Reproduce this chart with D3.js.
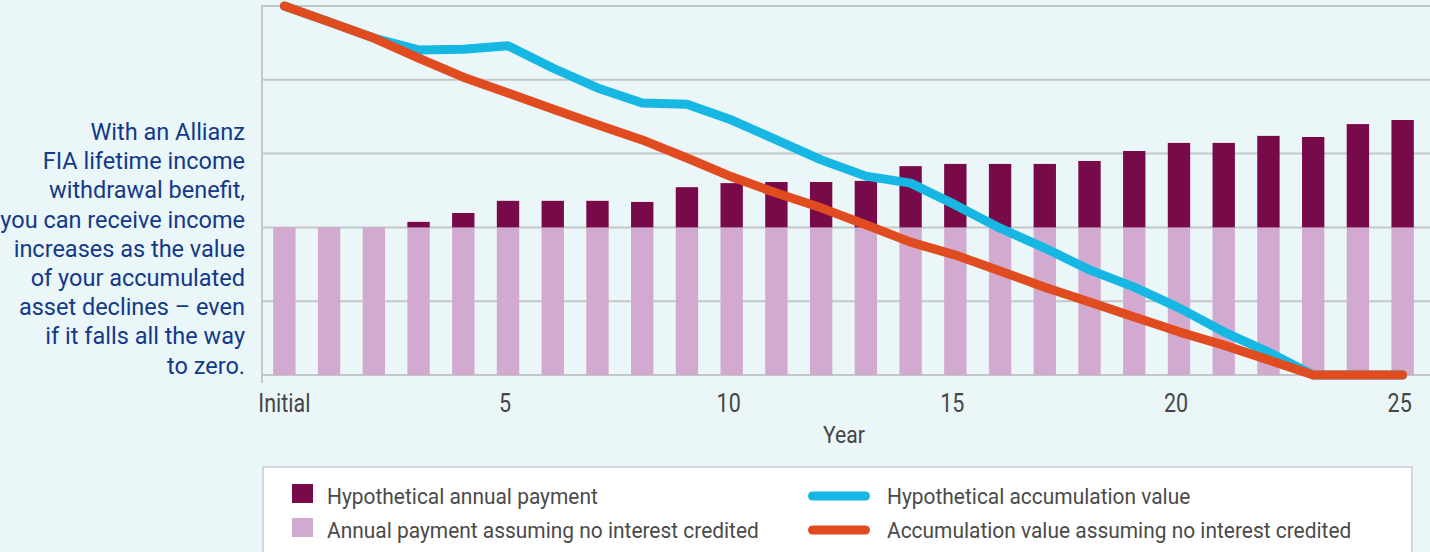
<!DOCTYPE html>
<html>
<head>
<meta charset="utf-8">
<script src="https://cdn.jsdelivr.net/npm/d3@7"></script>
<style>
  html, body { margin: 0; padding: 0; background: #ebf6f8; }
  svg { display: block; }
</style>
</head>
<body>
<svg id="chart" width="1430" height="552"></svg>
<script>
// ---------- data ----------
const categories = ["Initial","1","2","3","4","5","6","7","8","9","10","11","12","13","14","15","16","17","18","19","20","21","22","23","24","25"];
const tickLabels = ["Initial","5","10","15","20","25"];
const basePayment = [40,40,40,40,40,40,40,40,40,40,40,40,40,40,40,40,40,40,40,40,40,40,40,40,40,40];
const hypotheticalPayment = [40,40,40,41.5,43.9,47.2,47.2,47.2,46.9,50.9,52.0,52.3,52.3,52.6,56.6,57.2,57.2,57.2,58.0,60.7,62.9,62.9,64.8,64.5,68.0,69.1];
const hypotheticalValue = [100,95.7,91.3,88.1,88.3,89.2,83.2,77.8,73.7,73.4,69.1,63.7,58.3,53.9,52.0,46.1,39.8,34.4,28.5,23.8,18.2,11.7,6.2,0,0,0];
const noInterestValue = [100,95.7,91.3,85.9,80.7,76.4,72.1,67.8,63.7,58.8,53.7,49.3,45.3,40.7,36.0,32.5,28.2,23.8,19.8,15.7,11.7,8.1,4.1,0,0,0];
const yTicks = [0,20,40,60,80,100];
const annotation = ["With an Allianz","FIA lifetime income","withdrawal benefit,","you can receive income","increases as the value","of your accumulated","asset declines – even","if it falls all the way","to zero."];
const legendItems = [
  {label:"Hypothetical annual payment", type:"rect", color:"#790a4a"},
  {label:"Annual payment assuming no interest credited", type:"rect", color:"#d3aacf"},
  {label:"Hypothetical accumulation value", type:"line", color:"#16b8e3"},
  {label:"Accumulation value assuming no interest credited", type:"line", color:"#e04b1f"}
];

(function () {
// ---------- layout ----------
const svg = d3.select("#chart");
const W = 1430, H = 552;
const pLeft = 262, pRight = 1430, pTop = 6, pBottom = 375;
const font = "Roboto, 'Liberation Sans', Arial, sans-serif";

svg.append("rect").attr("width", W).attr("height", H).attr("fill", "#ebf6f8");

const x = d3.scaleBand().domain(categories).range([pLeft, 1425]).paddingInner(0.5).paddingOuter(0.25);
const y = d3.scaleLinear().domain([0, 100]).range([pBottom, pTop]);

// gridlines
svg.append("g").selectAll("line").data(yTicks).join("line")
  .attr("x1", pLeft).attr("x2", pRight)
  .attr("y1", d => y(d)).attr("y2", d => y(d))
  .attr("stroke", "#c4c7ca").attr("stroke-width", 2);

// left axis line
svg.append("line").attr("x1", pLeft).attr("x2", pLeft).attr("y1", pTop - 1).attr("y2", pBottom + 8)
  .attr("stroke", "#c4c7ca").attr("stroke-width", 2);

// bars
const rows = categories.map((c, i) => ({c, base: basePayment[i], total: hypotheticalPayment[i]}));
svg.append("g").selectAll("rect").data(rows).join("rect")
  .attr("x", d => x(d.c)).attr("width", x.bandwidth())
  .attr("y", d => y(d.base)).attr("height", d => y(0) - y(d.base))
  .attr("fill", "#d3aacf");
svg.append("g").selectAll("rect").data(rows.filter(d => d.total > d.base)).join("rect")
  .attr("x", d => x(d.c)).attr("width", x.bandwidth())
  .attr("y", d => y(d.total)).attr("height", d => y(d.base) - y(d.total))
  .attr("fill", "#790a4a");

// lines
const line = d3.line().x((d, i) => x(categories[i]) + x.bandwidth() / 2).y(d => y(d));
svg.append("path").attr("d", line(hypotheticalValue)).attr("fill", "none")
  .attr("stroke", "#16b8e3").attr("stroke-width", 9).attr("stroke-linecap", "round").attr("stroke-linejoin", "round");
svg.append("path").attr("d", line(noInterestValue)).attr("fill", "none")
  .attr("stroke", "#e04b1f").attr("stroke-width", 9).attr("stroke-linecap", "round").attr("stroke-linejoin", "round");

// x axis
const xAxis = d3.axisBottom(x).tickValues(tickLabels).tickSize(0).tickPadding(0);
const gx = svg.append("g").attr("transform", `translate(0,${pBottom})`).call(xAxis);
gx.select(".domain").remove();
gx.selectAll(".tick text")
  .attr("y", 0).attr("dy", 0).attr("x", 0)
  .attr("transform", d => `translate(${d === "Initial" ? 0 : -3},37) scale(0.86,1)`)
  .style("font-family", font).style("font-size", "25px").attr("fill", "#454545");

svg.append("text").attr("x", 0).attr("y", 0)
  .attr("transform", "translate(844,443) scale(0.9,1)")
  .attr("text-anchor", "middle").style("font-family", font).style("font-size", "23.5px").attr("fill", "#454545")
  .text("Year");

// annotation
svg.append("g").selectAll("text").data(annotation).join("text")
  .attr("x", 245).attr("y", (d, i) => 140 + i * 29.2)
  .attr("text-anchor", "end").style("font-family", font).style("font-size", "23.5px").attr("fill", "#12398a")
  .text(d => d);

// legend
svg.append("rect").attr("x", 263).attr("y", 467).attr("width", 1149).attr("height", 110)
  .attr("fill", "#ffffff").attr("stroke", "#c9cccf").attr("stroke-width", 1.5);
const lg = svg.append("g").selectAll("g").data(legendItems).join("g")
  .attr("transform", (d, i) => `translate(${i < 2 ? 292 : 808},${i % 2 === 0 ? 484 : 518})`);
lg.filter(d => d.type === "rect").append("rect").attr("width", 21).attr("height", 19).attr("fill", d => d.color);
lg.filter(d => d.type === "line").append("line").attr("x1", 4.5).attr("x2", 57.5).attr("y1", 12).attr("y2", 12)
  .attr("stroke", d => d.color).attr("stroke-width", 9).attr("stroke-linecap", "round");
lg.append("text")
  .attr("transform", (d, i) => `translate(${i < 2 ? 35 : 79},19.5) scale(0.93,1)`)
  .style("font-family", font).style("font-size", "22.5px").attr("fill", "#4a4a4a")
  .text(d => d.label);
})();
</script>
</body>
</html>
